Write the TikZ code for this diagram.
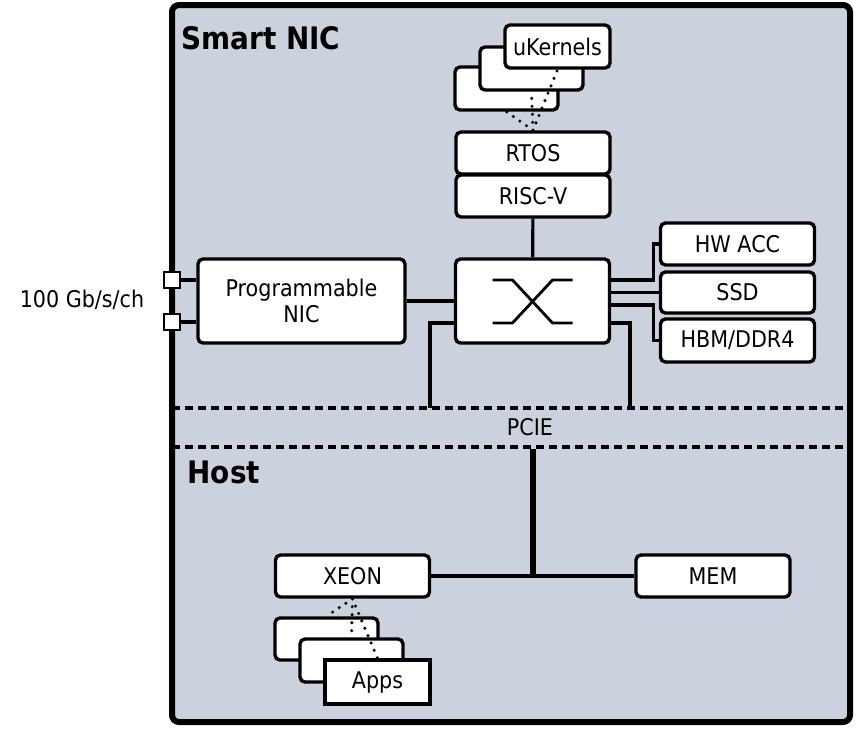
\documentclass[tikz,border=0pt]{standalone}
\usepackage{fontspec}
\setmainfont{DejaVu Sans Condensed}
\usepackage{tikz}
\usepackage{xcolor}
\usetikzlibrary{positioning,calc}
\definecolor{cBg}{HTML}{CCD2DD}
\definecolor{cInk}{HTML}{000000}

\begin{document}
\begin{tikzpicture}[
  x=1pt, y=-1pt,
  font=\fontsize{23}{26}\selectfont,
  b/.style={draw=cInk, fill=white, rounded corners=5pt, line width=3.4pt,
            inner sep=0pt, minimum width=154pt, minimum height=42pt},
  stk/.style={b, minimum width=103pt, minimum height=43pt},
  port/.style={draw=cInk, fill=white, line width=2.6pt, inner sep=0pt,
               minimum size=16pt},
  ln/.style={draw=cInk, line width=3.2pt},
  bus/.style={draw=cInk, line width=5.5pt},
  dots/.style={draw=cInk, line width=3.4pt, line cap=round,
               dash pattern=on 0pt off 8pt},
  sep/.style={draw=cInk, line width=3.5pt, dash pattern=on 8pt off 5pt},
  hd/.style={font=\fontsize{31}{34}\selectfont\bfseries, anchor=west}]

\useasboundingbox (0,0) rectangle (861,729);

% ---- outer frame ----
\node[draw=cInk, fill=cBg, rounded corners=7pt, line width=6pt,
      minimum width=678pt, minimum height=717pt] (frame) at (511,363.5) {};

% ================= Smart NIC =================
\node[hd] (tnic) at (178,38) {Smart NIC};
\node[stk] (uk3) at (506.5,88.5) {};
\node[stk] (uk2) at (531.5,68.5) {};
\node[stk, minimum width=105pt] (uk1) at (557.5,46.5) {uKernels};
\node[b] (rtos) at (533,153) {RTOS};
\node[b] (riscv) at (533,196) {RISC-V};
\node[b, minimum height=84pt] (sw) at (532.5,301) {};
\node[b, minimum width=207pt, minimum height=84pt, align=center]
  (pnic) at (301.5,301) {Programmable\\NIC};
\node[b] (hwacc) at (737.5,244) {HW ACC};
\node[b, minimum height=41pt] (ssd) at (737.5,292.5) {SSD};
\node[b, minimum height=43pt] (hbm) at (737.5,340.5) {HBM/DDR4};
\node[port] (p1) at (172,280) {};
\node[port] (p2) at (172,322) {};
\node (rate) at (82,300) {100 Gb/s/ch};

% crossbar symbol
\draw[ln, line width=2.8pt] ($(sw)+(-40,-21)$) -- ++(20,0) -- ++(40,43) -- ++(20,0);
\draw[ln, line width=2.8pt] ($(sw)+(-40,22)$) -- ++(20,0) -- ++(40,-43) -- ++(20,0);

% dotted task links
\draw[dots] (rtos.north) -- (uk3.south);
\draw[dots] (rtos.north) -- (uk2.south);
\draw[dots] (rtos.north) -- (uk1.south);

% ---- PCIE band ----
\coordinate (sepA) at (172,408);
\coordinate (sepB) at (850,408);
\coordinate (sepC) at (172,447);
\coordinate (sepD) at (850,447);
\draw[sep] (sepA) -- (sepB);
\draw[sep] (sepC) -- (sepD);
\node (pcie) at (530,427) {PCIE};
\coordinate (pcl) at (430,408);
\coordinate (pcr) at (630,408);

\draw[ln] (riscv) -- (sw);
\draw[ln] (pnic) -- (sw);
\draw[ln] (p1) -- (p1 -| pnic.west);
\draw[ln] (p2) -- (p2 -| pnic.west);
\draw[ln] ($(sw.east)+(0,-21)$) -- ++(42,0) |- (hwacc.west);
\draw[ln] (sw.east |- ssd) -- (ssd.west);
\draw[ln] ($(sw.east)+(0,4)$) -- ++(42,0) |- (hbm.west);
\draw[ln] ($(sw.west)+(0,22)$) -| (pcl);
\draw[ln] ($(sw.east)+(0,22)$) -| (pcr);

% ================= Host =================
\node[hd] (thost) at (184,472) {Host};
\node[b] (xeon) at (352.5,576) {XEON};
\node[b] (mem) at (713,576) {MEM};
\node[stk, minimum height=42pt] (app3) at (326.5,639) {};
\node[stk] (app2) at (351.5,660.5) {};
\node[stk, rounded corners=0pt, minimum width=105pt, minimum height=44pt]
  (app1) at (377.5,682) {Apps};
\draw[dots] (xeon.south) -- (app3.north);
\draw[dots] (xeon.south) -- (app2.north);
\draw[dots] (xeon.south) -- (app1.north);

\coordinate (busTop) at (533,449);
\coordinate (busJn) at (533,576);
\draw[bus] (busTop) -- (busJn);
\draw[ln] (xeon.east) -- (mem.west);
\end{tikzpicture}
\end{document}
